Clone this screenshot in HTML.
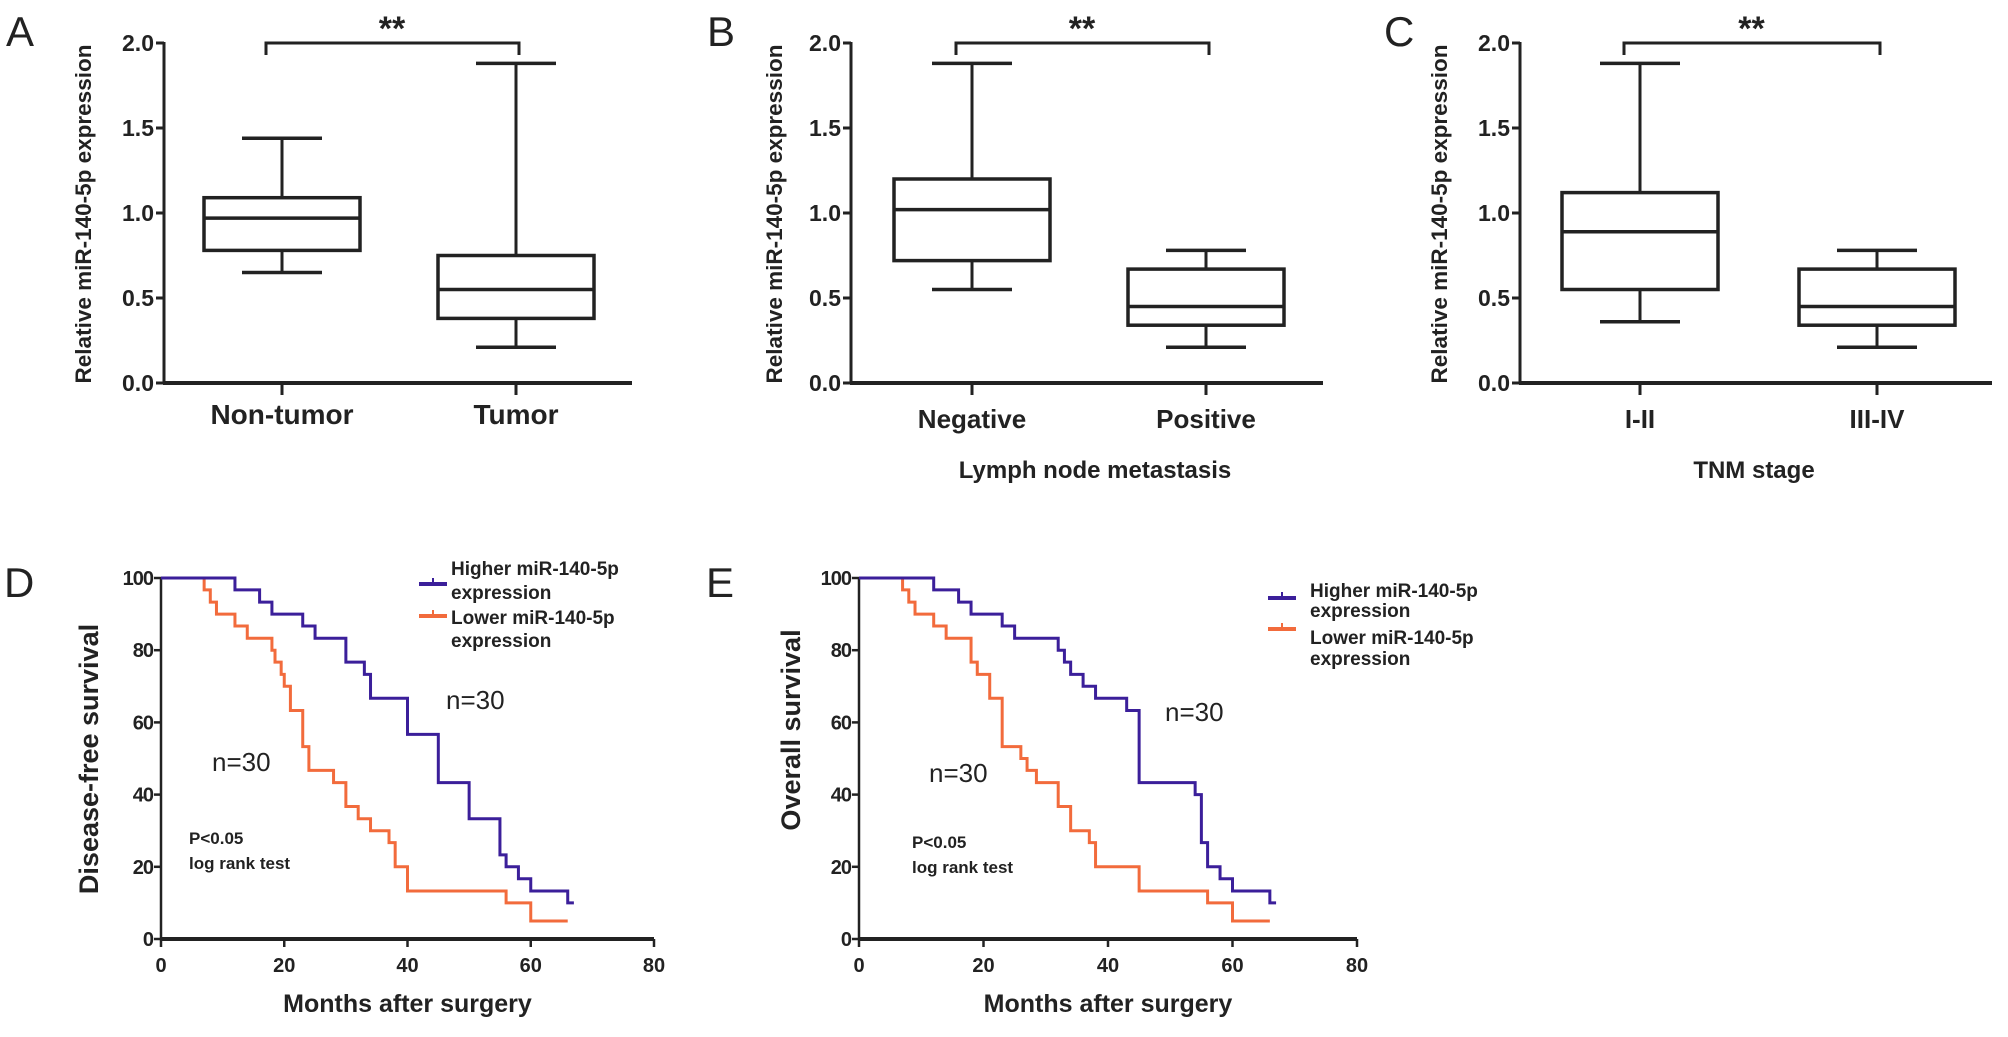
<!DOCTYPE html>
<html><head><meta charset="utf-8">
<style>
html,body{margin:0;padding:0;background:#fff;}
svg{display:block;font-family:"Liberation Sans",Arial,sans-serif;}
</style></head>
<body>
<svg id="fig" width="2008" height="1037" viewBox="0 0 2008 1037">
<g id="g"></g>
</svg>
<script>
// ---- Box plot data ----
const boxCategoriesA = ["Non-tumor","Tumor"];
const boxStatsA = [[0.65,0.78,0.97,1.09,1.44],[0.21,0.38,0.55,0.75,1.88]];
const boxCategoriesB = ["Negative","Positive"];
const boxStatsB = [[0.55,0.72,1.02,1.20,1.88],[0.21,0.34,0.45,0.67,0.78]];
const boxCategoriesC = ["I-II","III-IV"];
const boxStatsC = [[0.36,0.55,0.89,1.12,1.88],[0.21,0.34,0.45,0.67,0.78]];
const boxTicks = [0.0,0.5,1.0,1.5,2.0];
const boxTickLabels = ["0.0","0.5","1.0","1.5","2.0"];
// ---- KM data: [month, survival after this time] ----
const kmHighD = [[0,100],[12,96.7],[16,93.3],[18,90],[23,86.7],[25,83.3],[30,76.7],[33,73.3],[34,66.7],[40,56.7],[45,43.3],[50,33.3],[55,23.3],[56,20],[58,16.7],[60,13.3],[66,10],[67,10]];
const kmLowD = [[0,100],[7,96.7],[8,93.3],[9,90],[12,86.7],[14,83.3],[18,80],[18.5,76.7],[19.5,73.3],[20,70],[21,63.3],[23,53.3],[24,46.7],[28,43.3],[30,36.7],[32,33.3],[34,30],[37,26.7],[38,20],[40,13.3],[56,10],[60,5],[66,5]];
const kmHighE = [[0,100],[12,96.7],[16,93.3],[18,90],[23,86.7],[25,83.3],[32,80],[33,76.7],[34,73.3],[36,70],[38,66.7],[43,63.3],[45,43.3],[54,40],[55,26.7],[56,20],[58,16.7],[60,13.3],[66,10],[67,10]];
const kmLowE = [[0,100],[7,96.7],[8,93.3],[9,90],[12,86.7],[14,83.3],[18,76.7],[19,73.3],[21,66.7],[23,53.3],[26,50],[27,46.7],[28.5,43.3],[32,36.7],[34,30],[37,26.7],[38,20],[45,13.3],[56,10],[60,5],[66,5]];
const kmXTicks = [0,20,40,60,80];
const kmYTicks = [0,20,40,60,80,100];

const NS="http://www.w3.org/2000/svg";
const root=document.getElementById('g');
function mk(tag,attrs,parent){const e=document.createElementNS(NS,tag);for(const k in attrs)e.setAttribute(k,attrs[k]);(parent||root).appendChild(e);return e;}
function txt(s,attrs,parent){const e=mk('text',attrs,parent);e.textContent=s;return e;}

function boxPanel(cfg){
  const grp=mk('g',{});
  
  
  const y0=383,y2=43;
  const ys=v=>y0-(v/2.0)*(y0-y2);
  const ax=cfg.ax;
  // panel letter
  const L=txt(cfg.letter,{x:cfg.lx,y:46,'font-size':42,fill:'#222'},grp);
   
  // y axis
  const ya=mk('line',{x1:ax,y1:y2-1,x2:ax,y2:y0,stroke:'#222','stroke-width':3},grp);
   
  const xa=mk('line',{x1:ax-1,y1:y0,x2:cfg.xend,y2:y0,stroke:'#222','stroke-width':4},grp);
   
  boxTicks.forEach((t,i)=>{
    mk('line',{x1:ax-8,y1:ys(t),x2:ax,y2:ys(t),stroke:'#222','stroke-width':3},grp);
    const tl=txt(boxTickLabels[i],{x:ax-10,y:ys(t)+8,'font-size':23,'font-weight':'bold','text-anchor':'end',fill:'#222'},grp);
     
  });
  const yt=txt('Relative miR-140-5p expression',{x:0,y:0,'font-size':22.5,'font-weight':'bold','text-anchor':'middle',fill:'#222',transform:`translate(${cfg.ytx},214) rotate(-90)`},grp);
   
  const centers=[ax+cfg.c1,ax+cfg.c1+cfg.gap];
  cfg.stats.forEach((s,i)=>{
    const cx=centers[i],hw=78,cw=40;
    const b=mk('g',{},grp);
    
    
    mk('line',{x1:cx,y1:y0,x2:cx,y2:y0+12,stroke:'#222','stroke-width':3},b);
    mk('line',{x1:cx,y1:ys(s[0]),x2:cx,y2:ys(s[1]),stroke:'#222','stroke-width':3},b);
    mk('line',{x1:cx,y1:ys(s[3]),x2:cx,y2:ys(s[4]),stroke:'#222','stroke-width':3},b);
    mk('line',{x1:cx-cw,y1:ys(s[0]),x2:cx+cw,y2:ys(s[0]),stroke:'#222','stroke-width':3.5},b);
    mk('line',{x1:cx-cw,y1:ys(s[4]),x2:cx+cw,y2:ys(s[4]),stroke:'#222','stroke-width':3.5},b);
    mk('rect',{x:cx-hw,y:ys(s[3]),width:2*hw,height:ys(s[1])-ys(s[3]),fill:'none',stroke:'#222','stroke-width':3.5},b);
    mk('line',{x1:cx-hw,y1:ys(s[2]),x2:cx+hw,y2:ys(s[2]),stroke:'#222','stroke-width':3.5},b);
    const cl=txt(cfg.cats[i],{x:cx,y:cfg.catY,'font-size':cfg.catFs,'font-weight':'bold','text-anchor':'middle',fill:'#222'},grp);
     
  });
  // significance bracket
  const br=mk('path',{d:`M${centers[0]-16},55 V43 H${centers[1]+3} V55`,fill:'none',stroke:'#222','stroke-width':3},grp);
   
  const st=txt('**',{x:(centers[0]+centers[1])/2-7,y:40,'font-size':34,'font-weight':'bold','text-anchor':'middle',fill:'#222'},grp);
   
  if(cfg.xtitle){
    const xt=txt(cfg.xtitle,{x:cfg.xtx,y:478,'font-size':24,'font-weight':'bold','text-anchor':'middle',fill:'#222'},grp);
     
  }
}
boxPanel({name:'panel-a',letter:'A',lx:6,ax:164,xend:632,ytx:91,stats:boxStatsA,cats:boxCategoriesA,c1:118,gap:234,catY:424,catFs:28});
boxPanel({name:'panel-b',letter:'B',lx:707,ax:851,xend:1323,ytx:782,stats:boxStatsB,cats:boxCategoriesB,c1:121,gap:234,catY:428,catFs:26,xtitle:'Lymph node metastasis',xtx:1095});
boxPanel({name:'panel-c',letter:'C',lx:1384,ax:1520,xend:1992,ytx:1447,stats:boxStatsC,cats:boxCategoriesC,c1:120,gap:237,catY:428,catFs:26,xtitle:'TNM stage',xtx:1754});

function kmPanel(cfg){
  const grp=mk('g',{});
  
  
  const ax=cfg.ax,yb=939,yt=578,x80=cfg.x80;
  const xs=m=>ax+m/80*(x80-ax);
  const ys=v=>yb-v/100*(yb-yt);
  const L=txt(cfg.letter,{x:cfg.lx,y:597,'font-size':42,fill:'#222'},grp);
   
  const ya=mk('line',{x1:ax,y1:yt-1,x2:ax,y2:yb,stroke:'#222','stroke-width':2.5},grp);
   
  const xa=mk('line',{x1:ax,y1:yb,x2:x80,y2:yb,stroke:'#222','stroke-width':4},grp);
   
  kmYTicks.forEach(t=>{
    mk('line',{x1:ax-7,y1:ys(t),x2:ax,y2:ys(t),stroke:'#222','stroke-width':2.5},grp);
    const tl=txt(String(t),{x:ax-8,y:ys(t)+7,'font-size':20,'font-weight':'bold','text-anchor':'end',fill:'#222','letter-spacing':'-1'},grp);
     
  });
  kmXTicks.forEach(t=>{
    mk('line',{x1:xs(t),y1:yb,x2:xs(t),y2:yb+8,stroke:'#222','stroke-width':2.5},grp);
    const tl=txt(String(t),{x:xs(t),y:972,'font-size':20,'font-weight':'bold','text-anchor':'middle',fill:'#222'},grp);
     
  });
  const ytl=txt(cfg.ytitle,{x:0,y:0,'font-size':27,'font-weight':'bold','text-anchor':'middle',fill:'#222',transform:`translate(${cfg.ytx},${cfg.yty}) rotate(-90)`},grp);
   
  const xt=txt('Months after surgery',{x:(ax+x80)/2,y:1012,'font-size':25,'font-weight':'bold','text-anchor':'middle',fill:'#222'},grp);
   
  function curve(data,color,nm){
    let d=`M${xs(data[0][0])},${ys(data[0][1])}`;
    for(let i=1;i<data.length;i++){d+=` H${xs(data[i][0])} V${ys(data[i][1])}`;}
    const p=mk('path',{d:d,fill:'none',stroke:color,'stroke-width':3},grp);
     
  }
  curve(cfg.low,'#f26b3c','lower-expression-curve');
  curve(cfg.high,'#3b1f9a','higher-expression-curve');
  // legend
  const lg=mk('g',{},grp);
   
  const lm=cfg.leg;
  mk('line',{x1:lm.mx,y1:lm.m1,x2:lm.mx+28,y2:lm.m1,stroke:'#3b1f9a','stroke-width':4},lg);
  mk('line',{x1:lm.mx+14,y1:lm.m1-6,x2:lm.mx+14,y2:lm.m1,stroke:'#3b1f9a','stroke-width':2},lg);
  mk('line',{x1:lm.mx,y1:lm.m2,x2:lm.mx+28,y2:lm.m2,stroke:'#f26b3c','stroke-width':4},lg);
  mk('line',{x1:lm.mx+14,y1:lm.m2-6,x2:lm.mx+14,y2:lm.m2,stroke:'#f26b3c','stroke-width':2},lg);
  const lines=['Higher miR-140-5p','expression','Lower miR-140-5p','expression'];
  lines.forEach((s,i)=>{
    const t=txt(s,{x:lm.tx,y:lm.ty[i]+7,'font-size':19,'font-weight':'bold',fill:'#222'},lg);
     
  });
  const n1=txt('n=30',{x:cfg.n1[0],y:cfg.n1[1]+9,'font-size':26,fill:'#222'},grp);
   
  const n2=txt('n=30',{x:cfg.n2[0],y:cfg.n2[1]+9,'font-size':26,fill:'#222'},grp);
   
  const p1=txt('P<0.05',{x:cfg.p[0],y:cfg.p[1]+6,'font-size':17,'font-weight':'bold',fill:'#222'},grp);
   
  const p2=txt('log rank test',{x:cfg.p[0],y:cfg.p[1]+31,'font-size':17,'font-weight':'bold',fill:'#222'},grp);
   
}
kmPanel({name:'panel-d',letter:'D',lx:4,ax:161,x80:654,ytitle:'Disease-free survival',ytx:98,yty:759,high:kmHighD,low:kmLowD,
  leg:{mx:419,m1:584,m2:616,tx:451,ty:[568,592,617,640]},n1:[446,700],n2:[212,762],p:[189,838]});
kmPanel({name:'panel-e',letter:'E',lx:706,ax:859,x80:1357,ytitle:'Overall survival',ytx:800,yty:730,high:kmHighE,low:kmLowE,
  leg:{mx:1268,m1:598,m2:629,tx:1310,ty:[590,610,637,658]},n1:[1165,712],n2:[929,773],p:[912,842]});
</script>
</body></html>
